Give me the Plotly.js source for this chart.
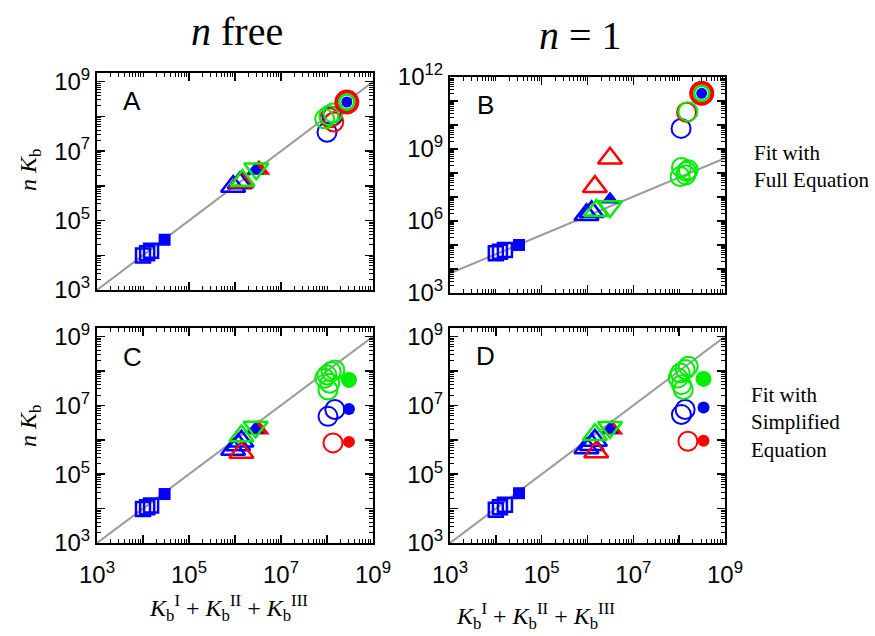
<!DOCTYPE html>
<html>
<head>
<meta charset="utf-8">
<script src="https://cdn.plot.ly/plotly-3.0.1.min.js"></script>
<style>html,body{margin:0;padding:0;background:#fff;}#chart{width:875px;height:636px;}</style>
</head>
<body>
<div id="chart"></div>
<script>
// ---------------- DATA ----------------
// Each array: [[x values],[y values]]  (K_b^I + K_b^II + K_b^III , n K_b)
const A_fit = [[1e3, 1e9], [1e3, 1e9]];
const A_sqOpen = [[1.0e4, 1.23e4, 1.5e4], [9.8e3, 1.15e4, 1.35e4]];
const A_sqFill = [[2.95e4], [2.8e4]];
const A_triBlueOpen = [[9.1e5, 1.26e6], [9.5e5, 1.2e6]];
const A_triRedFill = [[3.3e6], [2.9e6]];
const A_triBlueFill = [[2.75e6], [2.75e6]];
const A_triRedOpen = [[1.38e6], [1.29e6]];
const A_triGreenOpen = [[1.45e6], [1.42e6]];
const A_triGreenDown = [[2.9e6], [3.1e6]];
const A_circBlueOpen = [[1.0e8, 1.3e8], [3.5e7, 1.0e8]];
const A_circRedOpen = [[1.4e8, 1.15e8], [6.9e7, 9.1e7]];
const A_circGreenOpen = [[8.9e7, 1.1e8, 1.35e8], [8.5e7, 1.07e8, 1.26e8]];
const A_top = [[2.7e8], [2.6e8]];

const B_fit = [[1e3, 1e9], [6.6e3, 4.1e8]];
const B_sqOpen = [[1.0e4, 1.23e4, 1.58e4], [4.5e4, 5.2e4, 6.2e4]];
const B_sqFill = [[3.2e4], [1.0e5]];
const B_triBlueOpen = [[9.5e5, 1.23e6], [1.8e6, 2.4e6]];
const B_triBlueFill = [[3.1e6], [7.9e6]];
const B_triRedOpen = [[1.45e6, 3.1e6], [2.7e7, 4.1e8]];
const B_triGreenOpen = [[1.55e6], [2.7e6]];
const B_triGreenDown = [[3.1e6], [4.0e6]];
const B_circBlueOpen = [[1.1e8], [7.2e9]];
const B_circRedOpen = [[1.45e8], [3.4e10]];
const B_circGreenOpen = [[1.55e8, 1.12e8, 1.45e8, 1.05e8, 1.4e8, 1.58e8], [3.6e10, 1.7e8, 1.15e8, 7.1e7, 8.3e7, 1.35e8]];
const B_top = [[3.1e8], [2.1e11]];

const C_fit = [[1e3, 1e9], [1e3, 1e9]];
const C_sqOpen = [[1.0e4, 1.23e4, 1.5e4], [9.8e3, 1.1e4, 1.23e4]];
const C_sqFill = [[2.95e4], [2.65e4]];
const C_triBlueOpen = [[9.1e5, 1.17e6, 1.38e6], [5.2e5, 7.1e5, 9.1e5]];
const C_triRedFill = [[3.2e6], [2.0e6]];
const C_triBlueFill = [[2.75e6], [2.0e6]];
const C_triRedOpen = [[1.38e6], [4.3e5]];
const C_triGreenOpen = [[1.38e6], [1.29e6]];
const C_triGreenDown = [[2.8e6], [2.35e6]];
const C_circBlueOpen = [[1.05e8, 1.48e8], [4.8e6, 7.6e6]];
const C_circRedOpen = [[1.35e8], [8.1e5]];
const C_circGreenOpen = [[1.0e8, 1.23e8, 1.48e8, 8.9e7, 1.05e8, 1.15e8], [7.6e7, 9.6e7, 1.07e8, 6.2e7, 2.8e7, 4.4e7]];
const C_fillGreen = [[3.0e8], [5.5e7]];
const C_fillBlue = [[3.0e8], [7.8e6]];
const C_fillRed = [[3.0e8], [8.7e5]];

const D_fit = [[1e3, 1e9], [1e3, 1e9]];
const D_sqOpen = [[1.0e4, 1.23e4, 1.58e4], [9.3e3, 1.1e4, 1.3e4]];
const D_sqFill = [[3.2e4], [2.8e4]];
const D_triBlueOpen = [[9.5e5, 1.23e6, 1.45e6], [5.8e5, 7.2e5, 9.6e5]];
const D_triRedFill = [[3.4e6], [2.0e6]];
const D_triBlueFill = [[3.1e6], [2.0e6]];
const D_triRedOpen = [[1.55e6], [4.4e5]];
const D_triGreenOpen = [[1.45e6], [1.4e6]];
const D_triGreenDown = [[3.1e6], [2.3e6]];
const D_circBlueOpen = [[1.12e8, 1.35e8], [5.4e6, 7.6e6]];
const D_circRedOpen = [[1.55e8], [9.1e5]];
const D_circGreenOpen = [[1.05e8, 1.35e8, 1.58e8, 1.12e8, 1.23e8, 9.5e7], [8.7e7, 1.1e8, 1.38e8, 4.0e7, 2.9e7, 6.3e7]];
const D_fillGreen = [[3.4e8], [5.9e7]];
const D_fillBlue = [[3.4e8], [8.7e6]];
const D_fillRed = [[3.4e8], [9.4e5]];

const xTickVals = [1e3, 1e4, 1e5, 1e6, 1e7, 1e8, 1e9];
const xTickText = ['10<sup>3</sup>', '', '10<sup>5</sup>', '', '10<sup>7</sup>', '', '10<sup>9</sup>'];
const yTickValsB = [1e3, 1e4, 1e5, 1e6, 1e7, 1e8, 1e9, 1e10, 1e11, 1e12];
const yTickTextB = ['10<sup>3</sup>', '', '', '10<sup>6</sup>', '', '', '10<sup>9</sup>', '', '', '10<sup>12</sup>'];

// ---------------- STYLE ----------------
const BLUE = '#0000ff', RED = '#ff0000', GREEN = '#00ee00', GRAY = '#999999';
const S = {
  sqOpen: {symbol: 'square-open', size: 14, color: BLUE, lw: 2.5},
  sqFill: {symbol: 'square', size: 12, color: BLUE, lw: 0},
  triBlueOpen: {symbol: 'triangle-up-open', size: 21, color: BLUE, lw: 2.5},
  triRedFill: {symbol: 'triangle-up', size: 20, color: RED, lw: 0},
  triBlueFill: {symbol: 'triangle-up', size: 16, color: BLUE, lw: 0},
  triRedOpen: {symbol: 'triangle-up-open', size: 21, color: RED, lw: 2.5},
  triGreenOpen: {symbol: 'triangle-up-open', size: 21, color: GREEN, lw: 2.5},
  triGreenDown: {symbol: 'triangle-down-open', size: 21, color: GREEN, lw: 2.5},
  circBlueOpen: {symbol: 'circle-open', size: 19, color: BLUE, lw: 2},
  circRedOpen: {symbol: 'circle-open', size: 19, color: RED, lw: 2},
  circGreenOpen: {symbol: 'circle-open', size: 19, color: GREEN, lw: 2},
  topRed: {symbol: 'circle-open', size: 21, color: RED, lw: 4},
  topGreen: {symbol: 'circle-open', size: 15, color: GREEN, lw: 2.5},
  topBlue: {symbol: 'circle', size: 11, color: BLUE, lw: 0},
  fillGreen: {symbol: 'circle', size: 16, color: GREEN, lw: 0},
  fillBlue: {symbol: 'circle', size: 12, color: BLUE, lw: 0},
  fillRed: {symbol: 'circle', size: 12, color: RED, lw: 0}
};

const traces = [];
function line(n, d) {
  traces.push({x: d[0], y: d[1], xaxis: 'x' + n, yaxis: 'y' + n, mode: 'lines',
    line: {color: GRAY, width: 2}, hoverinfo: 'skip', showlegend: false});
}
function pts(n, d, s) {
  traces.push({x: d[0], y: d[1], xaxis: 'x' + n, yaxis: 'y' + n, mode: 'markers',
    marker: {symbol: s.symbol, size: s.size, color: s.color, line: {color: s.color, width: s.lw}},
    showlegend: false, cliponaxis: false});
}

// Panel A (1)
line('', A_fit);
pts('', A_sqOpen, S.sqOpen); pts('', A_sqFill, S.sqFill);
pts('', A_triBlueOpen, S.triBlueOpen); pts('', A_triRedFill, S.triRedFill); pts('', A_triBlueFill, S.triBlueFill);
pts('', A_triRedOpen, S.triRedOpen); pts('', A_triGreenOpen, S.triGreenOpen); pts('', A_triGreenDown, S.triGreenDown);
pts('', A_circBlueOpen, S.circBlueOpen); pts('', A_circRedOpen, S.circRedOpen); pts('', A_circGreenOpen, S.circGreenOpen);
pts('', A_top, S.topRed); pts('', A_top, S.topGreen); pts('', A_top, S.topBlue);
// Panel B (2)
line('2', B_fit);
pts('2', B_sqOpen, S.sqOpen); pts('2', B_sqFill, S.sqFill);
pts('2', B_triBlueOpen, S.triBlueOpen); pts('2', B_triBlueFill, S.triBlueFill);
pts('2', B_triRedOpen, S.triRedOpen); pts('2', B_triGreenOpen, S.triGreenOpen); pts('2', B_triGreenDown, S.triGreenDown);
pts('2', B_circBlueOpen, S.circBlueOpen); pts('2', B_circRedOpen, S.circRedOpen); pts('2', B_circGreenOpen, S.circGreenOpen);
pts('2', B_top, S.topRed); pts('2', B_top, S.topGreen); pts('2', B_top, S.topBlue);
// Panel C (3)
line('3', C_fit);
pts('3', C_sqOpen, S.sqOpen); pts('3', C_sqFill, S.sqFill);
pts('3', C_triBlueOpen, S.triBlueOpen); pts('3', C_triRedFill, S.triRedFill); pts('3', C_triBlueFill, S.triBlueFill);
pts('3', C_triRedOpen, S.triRedOpen); pts('3', C_triGreenOpen, S.triGreenOpen); pts('3', C_triGreenDown, S.triGreenDown);
pts('3', C_circBlueOpen, S.circBlueOpen); pts('3', C_circRedOpen, S.circRedOpen); pts('3', C_circGreenOpen, S.circGreenOpen);
pts('3', C_fillGreen, S.fillGreen); pts('3', C_fillBlue, S.fillBlue); pts('3', C_fillRed, S.fillRed);
// Panel D (4)
line('4', D_fit);
pts('4', D_sqOpen, S.sqOpen); pts('4', D_sqFill, S.sqFill);
pts('4', D_triBlueOpen, S.triBlueOpen); pts('4', D_triRedFill, S.triRedFill); pts('4', D_triBlueFill, S.triBlueFill);
pts('4', D_triRedOpen, S.triRedOpen); pts('4', D_triGreenOpen, S.triGreenOpen); pts('4', D_triGreenDown, S.triGreenDown);
pts('4', D_circBlueOpen, S.circBlueOpen); pts('4', D_circRedOpen, S.circRedOpen); pts('4', D_circGreenOpen, S.circGreenOpen);
pts('4', D_fillGreen, S.fillGreen); pts('4', D_fillBlue, S.fillBlue); pts('4', D_fillRed, S.fillRed);

const SANS = 'Liberation Sans, Arial, sans-serif';
const SERIF = 'Liberation Serif, Times New Roman, serif';

function axis(domain, range, anchor, vals, text, showLabels, isX) {
  return {
    type: 'log', domain: domain, range: range, anchor: anchor,
    tickmode: 'array', tickvals: vals, ticktext: text, showticklabels: showLabels,
    ticks: 'inside', ticklen: 8, tickwidth: 1.5, tickcolor: '#000',
    ticklabelstandoff: isX ? 9 : 0,
    showline: true, linewidth: 2, linecolor: '#000', mirror: 'allticks',
    showgrid: false, zeroline: false,
    minor: {ticks: 'inside', ticklen: 4, tickwidth: 1, tickcolor: '#000', dtick: 'D1', showgrid: false},
    tickfont: {family: SANS, size: 24, color: '#000'}
  };
}
const xdL = [97 / 875, 373 / 875], xdR = [450 / 875, 725 / 875];
const ydA = [1 - 290 / 636, 1 - 73 / 636], ydB = [1 - 293 / 636, 1 - 77 / 636];
const ydC = [1 - 543 / 636, 1 - 328 / 636];

function ann(text, x, y, size, family, opts) {
  return Object.assign({text: text, x: x / 875, y: 1 - y / 636, xref: 'paper', yref: 'paper',
    xanchor: 'center', yanchor: 'middle',
    showarrow: false, font: {family: family, size: size, color: '#000'}}, opts || {});
}

const layout = {
  width: 875, height: 636, margin: {l: 0, r: 0, t: 0, b: 0},
  paper_bgcolor: '#fff', plot_bgcolor: '#fff', showlegend: false,
  xaxis: axis(xdL, [3, 9], 'y', xTickVals, xTickText, false, true),
  yaxis: axis(ydA, [3, 9.25], 'x', xTickVals, xTickText, true, false),
  xaxis2: axis(xdR, [3, 9], 'y2', xTickVals, xTickText, false, true),
  yaxis2: axis(ydB, [3, 12], 'x2', yTickValsB, yTickTextB, true, false),
  xaxis3: axis(xdL, [3, 9], 'y3', xTickVals, xTickText, true, true),
  yaxis3: axis(ydC, [3, 9.25], 'x3', xTickVals, xTickText, true, false),
  xaxis4: axis(xdR, [3, 9], 'y4', xTickVals, xTickText, true, true),
  yaxis4: axis(ydC, [3, 9.25], 'x4', xTickVals, xTickText, true, false),
  annotations: [
    ann('<i>n</i> free', 237, 31, 40, SERIF),
    ann('<i>n</i> = 1', 580, 35, 40, SERIF),
    ann('A', 132, 101, 26, SANS), ann('B', 485, 105, 26, SANS),
    ann('C', 132, 357, 26, SANS), ann('D', 486, 356, 26, SANS),
    ann('<i>n K</i><sub>b</sub>', 30, 170, 24, SERIF, {textangle: -90}),
    ann('<i>n K</i><sub>b</sub>', 30, 426, 24, SERIF, {textangle: -90}),
    ann('<i>K</i><sub>b</sub><sup>I</sup> + <i>K</i><sub>b</sub><sup>II</sup> + <i>K</i><sub>b</sub><sup>III</sup>', 228, 608, 24, SERIF),
    ann('<i>K</i><sub>b</sub><sup>I</sup> + <i>K</i><sub>b</sub><sup>II</sup> + <i>K</i><sub>b</sub><sup>III</sup>', 535, 616, 24, SERIF),
    ann('Fit with<br>Full Equation', 752, 166, 21, SERIF, {xanchor: 'left', align: 'left'}),
    ann('Fit with<br>Simplified<br>Equation', 749, 422, 21, SERIF, {xanchor: 'left', align: 'left'})
  ]
};

Plotly.newPlot('chart', traces, layout, {staticPlot: true});
</script>
</body>
</html>
